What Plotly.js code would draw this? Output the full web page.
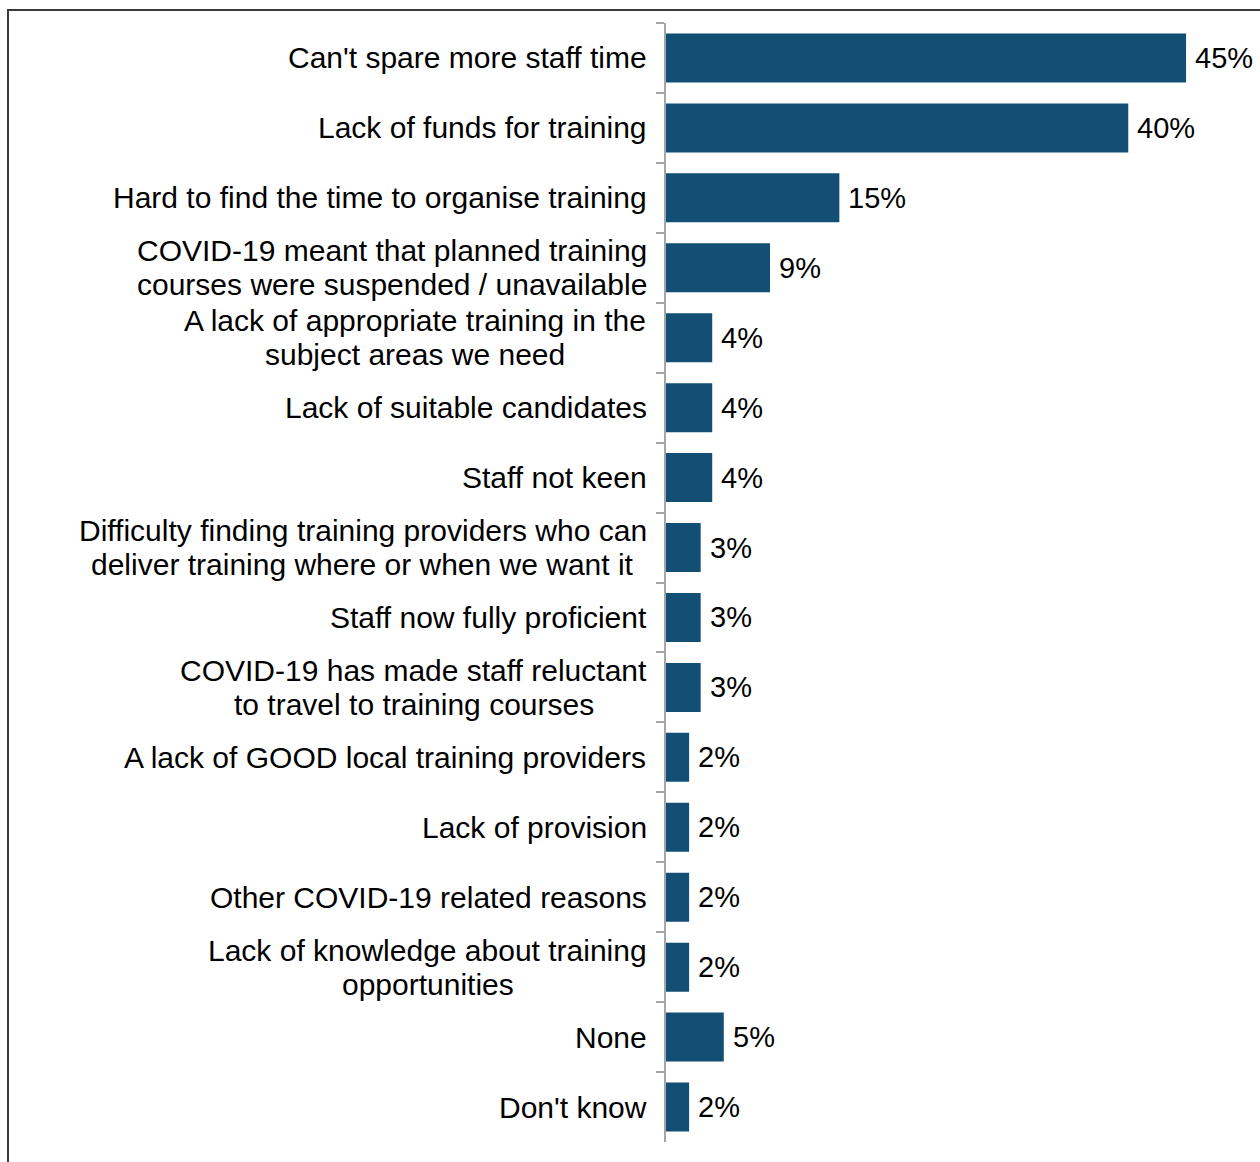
<!DOCTYPE html>
<html>
<head>
<meta charset="utf-8">
<script src="https://cdn.plot.ly/plotly-3.0.1.min.js"></script>
<style>
  html, body { margin: 0; padding: 0; background: #fff; }
  #wrap { position: relative; width: 1260px; height: 1162px; overflow: hidden; }
  #frame { position: absolute; left: 7px; top: 9px; width: 1300px; height: 1200px;
           border-left: 2px solid #3a3a3a; border-top: 2px solid #3a3a3a; }
  #chart { position: absolute; left: 0; top: 0; width: 1260px; height: 1162px; }
</style>
</head>
<body>
<div id="wrap">
  <div id="frame"></div>
  <div id="chart"></div>
</div>
<script>
const categories = [
  "Can't spare more staff time",
  "Lack of funds for training",
  "Hard to find the time to organise training",
  "COVID-19 meant that planned training<br>courses were suspended / unavailable",
  "A lack of appropriate training in the<br>subject areas we need",
  "Lack of suitable candidates",
  "Staff not keen",
  "Difficulty finding training providers who can<br>deliver training where or when we want it",
  "Staff now fully proficient",
  "COVID-19 has made staff reluctant<br>to travel to training courses",
  "A lack of GOOD local training providers",
  "Lack of provision",
  "Other COVID-19 related reasons",
  "Lack of knowledge about training<br>opportunities",
  "None",
  "Don't know"
];
const values = [45, 40, 15, 9, 4, 4, 4, 3, 3, 3, 2, 2, 2, 2, 5, 2];
const valueLabels = values.map(v => v + "%");

const FONT = "Liberation Sans, Arial, sans-serif";
const FS_CAT = 30;
const FS_VAL = 29;
const LINE_H = 34;
const LABEL_GAP = 19;

const ctx = document.createElement("canvas").getContext("2d");
ctx.font = FS_CAT + "px 'Liberation Sans', Arial, sans-serif";
function textW(s) { return ctx.measureText(s.replace(/&#39;/g, "'")).width; }

const trace = {
  type: "bar",
  orientation: "h",
  y: categories,
  x: values,
  marker: { color: "#134f75" },
  hoverinfo: "skip"
};

const annotations = [];
categories.forEach((c, i) => {
  const lines = c.split("<br>");
  const blockW = Math.max(...lines.map(textW));
  const n = lines.length;
  lines.forEach((ln, k) => {
    annotations.push({
      xref: "x", yref: "y", x: 0, y: c,
      text: ln, showarrow: false,
      xanchor: "center", yanchor: "middle",
      xshift: -LABEL_GAP - blockW / 2,
      yshift: ((n - 1) / 2 - k) * LINE_H,
      borderpad: 0,
      font: { family: FONT, size: FS_CAT, color: "#000" }
    });
  });
  annotations.push({
    xref: "x", yref: "y", x: values[i], y: c,
    text: valueLabels[i], showarrow: false,
    xanchor: "left", yanchor: "middle",
    xshift: 7,
    font: { family: FONT, size: FS_VAL, color: "#000" }
  });
});

const layout = {
  width: 1260, height: 1162,
  margin: { l: 666, r: 0, t: 23, b: 20, pad: 0 },
  paper_bgcolor: "rgba(0,0,0,0)",
  plot_bgcolor: "rgba(0,0,0,0)",
  showlegend: false,
  bargap: 0.3,
  font: { family: FONT, size: FS_CAT, color: "#000" },
  xaxis: {
    range: [0, 51.4],
    showgrid: false, zeroline: false, showline: false,
    showticklabels: false, ticks: "", fixedrange: true
  },
  yaxis: {
    type: "category",
    autorange: "reversed",
    showgrid: false, zeroline: false,
    showline: true, linecolor: "#a6a6a6", linewidth: 2,
    ticks: "outside", tickson: "boundaries", ticklen: 8,
    tickcolor: "#a6a6a6", tickwidth: 2,
    showticklabels: false
  },
  annotations: annotations
};

Plotly.newPlot("chart", [trace], layout, { displayModeBar: false, staticPlot: true });
</script>
</body>
</html>
